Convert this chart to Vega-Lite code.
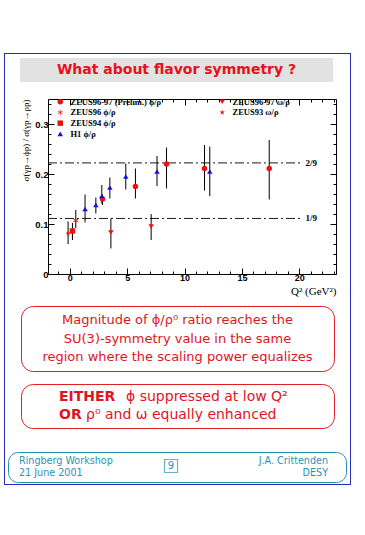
{
  "$schema": "https://vega.github.io/schema/vega-lite/v6.json",
  "background": "white",
  "padding": {"left": 4, "top": 53, "right": 0, "bottom": 0},
  "spacing": 0,
  "config": {"view": {"stroke": null}, "font": "DejaVu Sans"},
  "datasets": {
    "pts": [
      {"g": "phi", "s": "ZEUS96-97 (Prelim.) ϕ/ρ", "q2": 2.85, "v": 0.150, "lo": 0.138, "hi": 0.159},
      {"g": "phi", "s": "ZEUS96-97 (Prelim.) ϕ/ρ", "q2": 5.72, "v": 0.175, "lo": 0.151, "hi": 0.211},
      {"g": "phi", "s": "ZEUS96-97 (Prelim.) ϕ/ρ", "q2": 8.43, "v": 0.220, "lo": 0.171, "hi": 0.253},
      {"g": "phi", "s": "ZEUS96-97 (Prelim.) ϕ/ρ", "q2": 11.74, "v": 0.211, "lo": 0.167, "hi": 0.258},
      {"g": "phi", "s": "ZEUS96-97 (Prelim.) ϕ/ρ", "q2": 17.38, "v": 0.211, "lo": 0.149, "hi": 0.268},
      {"g": "phi", "s": "ZEUS96 ϕ/ρ", "q2": 0.52, "v": 0.107, "lo": 0.092, "hi": 0.128},
      {"g": "phi", "s": "ZEUS94 ϕ/ρ", "q2": 0.23, "v": 0.086, "lo": 0.068, "hi": 0.102},
      {"g": "phi", "s": "H1 ϕ/ρ", "q2": 1.33, "v": 0.130, "lo": 0.103, "hi": 0.159},
      {"g": "phi", "s": "H1 ϕ/ρ", "q2": 2.27, "v": 0.138, "lo": 0.121, "hi": 0.153},
      {"g": "phi", "s": "H1 ϕ/ρ", "q2": 2.79, "v": 0.156, "lo": 0.141, "hi": 0.178},
      {"g": "phi", "s": "H1 ϕ/ρ", "q2": 3.49, "v": 0.173, "lo": 0.151, "hi": 0.193},
      {"g": "phi", "s": "H1 ϕ/ρ", "q2": 4.88, "v": 0.195, "lo": 0.169, "hi": 0.221},
      {"g": "phi", "s": "H1 ϕ/ρ", "q2": 7.6, "v": 0.205, "lo": 0.176, "hi": 0.236},
      {"g": "phi", "s": "H1 ϕ/ρ", "q2": 12.2, "v": 0.205, "lo": 0.156, "hi": 0.255},
      {"g": "omega", "s": "ZEUS96-97 ω/ρ", "q2": 3.58, "v": 0.083, "lo": 0.051, "hi": 0.111},
      {"g": "omega", "s": "ZEUS96-97 ω/ρ", "q2": 7.09, "v": 0.095, "lo": 0.068, "hi": 0.120},
      {"g": "omega", "s": "ZEUS93 ω/ρ", "q2": -0.15, "v": 0.081, "lo": 0.060, "hi": 0.105}
    ],
    "ref": [
      {"y": 0.2222, "x1": -1.9, "x2": 20.2, "label": "2/9"},
      {"y": 0.1111, "x1": -1.9, "x2": 20.2, "label": "1/9"}
    ],
    "blank": [{}]
  },
  "hconcat": [
    {"width": 1, "height": 432, "view": {"fill": "#2b2bb5", "stroke": null}, "data": {"name": "blank"}, "mark": {"type": "point", "size": 0, "opacity": 0}},
    {
      "vconcat": [
        {"width": 345, "height": 1, "view": {"fill": "#2b2bb5", "stroke": null}, "data": {"name": "blank"}, "mark": {"type": "point", "size": 0, "opacity": 0}},
        {"width": 1, "height": 4, "data": {"name": "blank"}, "mark": {"type": "point", "size": 0, "opacity": 0}},
        {
          "hconcat": [
            {"width": 15, "height": 24, "data": {"name": "blank"}, "mark": {"type": "point", "size": 0, "opacity": 0}},
            {
              "width": 313, "height": 24,
              "view": {"fill": "#e2e2e2", "stroke": null},
              "data": {"values": [{"t": "What about flavor symmetry ?"}]},
              "mark": {"type": "text", "font": "DejaVu Sans", "fontWeight": "bold", "fontSize": 14, "color": "#e8101a"},
              "encoding": {"text": {"field": "t"}}
            }
          ],
          "spacing": 0
        },
        {"width": 1, "height": 15, "data": {"name": "blank"}, "mark": {"type": "point", "size": 0, "opacity": 0}},
        {
          "hconcat": [
            {"width": 43, "height": 175, "data": {"name": "blank"}, "mark": {"type": "point", "size": 0, "opacity": 0}},
            {
              "width": 288, "height": 175,
              "view": {"stroke": "black", "strokeWidth": 1},
              "layer": [
                {
                  "data": {"name": "ref"},
                  "mark": {"type": "rule", "strokeDash": [9, 3, 2, 3], "strokeWidth": 0.9, "color": "black"},
                  "encoding": {
                    "x": {"field": "x1", "type": "quantitative", "scale": {"domain": [-1.9, 23.2], "nice": false, "zero": false},
                      "axis": {"orient": "bottom", "values": [-1,0,1,2,3,4,5,6,7,8,9,10,11,12,13,14,15,16,17,18,19,20,21,22,23],
                        "labelExpr": "datum.value % 5 === 0 ? datum.label : ''",
                        "tickSize": {"condition": {"test": "datum.value % 5 === 0", "value": -6}, "value": -3},
                        "tickColor": "black", "domain": false, "grid": false,
                        "labelFont": "Liberation Sans", "labelFontWeight": "bold", "labelFontSize": 9, "labelColor": "black",
                        "labelPadding": 5, "labelFlush": false, "labelOverlap": false,
                        "title": "Q² (GeV²)", "titleFont": "Liberation Serif", "titleFontSize": 11, "titleFontWeight": "normal",
                        "titleAnchor": "end", "titlePadding": 0, "titleColor": "black"}},
                    "x2": {"field": "x2"},
                    "y": {"field": "y", "type": "quantitative", "scale": {"domain": [0, 0.35], "nice": false},
                      "axis": {"orient": "left", "values": [0,0.02,0.04,0.06,0.08,0.1,0.12,0.14,0.16,0.18,0.2,0.22,0.24,0.26,0.28,0.3,0.32,0.34],
                        "format": ".1~f",
                        "labelExpr": "abs(datum.value*10-round(datum.value*10)) < 0.001 ? datum.label : ''",
                        "tickSize": {"condition": {"test": "abs(datum.value*10-round(datum.value*10)) < 0.001", "value": -6}, "value": -3},
                        "tickColor": "black", "domain": false, "grid": false,
                        "labelFont": "Liberation Sans", "labelFontWeight": "bold", "labelFontSize": 9.5, "labelColor": "black",
                        "labelPadding": 6, "labelFlush": false, "labelOverlap": false,
                        "title": "σ(γp→ϕp) / σ(γp→ρp)", "titleFont": "Liberation Serif", "titleFontSize": 9, "titleFontWeight": "normal",
                        "titleAnchor": "end", "titlePadding": 4, "titleColor": "black"}}
                  }
                },
                {
                  "data": {"name": "ref"},
                  "mark": {"type": "text", "align": "left", "dx": 4, "font": "Liberation Serif", "fontWeight": "bold", "fontSize": 9, "color": "black"},
                  "encoding": {
                    "x": {"field": "x2", "type": "quantitative", "scale": {"domain": [-1.9, 23.2], "nice": false, "zero": false}, "axis": null},
                    "y": {"field": "y", "type": "quantitative", "scale": {"domain": [0, 0.35], "nice": false}, "axis": null},
                    "text": {"field": "label"}
                  }
                },
                {
                  "data": {"name": "pts"},
                  "mark": {"type": "rule", "color": "black", "strokeWidth": 1},
                  "encoding": {
                    "x": {"field": "q2", "type": "quantitative", "scale": {"domain": [-1.9, 23.2], "nice": false, "zero": false},
                      "axis": {"orient": "top", "values": [-1,0,1,2,3,4,5,6,7,8,9,10,11,12,13,14,15,16,17,18,19,20,21,22,23],
                        "labels": false, "domain": false, "grid": false, "title": null, "tickColor": "black",
                        "tickSize": {"condition": {"test": "datum.value % 5 === 0", "value": -6}, "value": -3}}},
                    "y": {"field": "lo", "type": "quantitative", "scale": {"domain": [0, 0.35], "nice": false},
                      "axis": {"orient": "right", "values": [0,0.02,0.04,0.06,0.08,0.1,0.12,0.14,0.16,0.18,0.2,0.22,0.24,0.26,0.28,0.3,0.32,0.34],
                        "labels": false, "domain": false, "grid": false, "title": null, "tickColor": "black",
                        "tickSize": {"condition": {"test": "abs(datum.value*10-round(datum.value*10)) < 0.001", "value": -6}, "value": -3}}},
                    "y2": {"field": "hi"}
                  }
                },
                {
                  "data": {"name": "pts"},
                  "transform": [{"filter": "datum.g === 'phi'"}],
                  "mark": {"type": "point", "filled": true, "size": 30, "opacity": 1},
                  "encoding": {
                    "x": {"field": "q2", "type": "quantitative", "scale": {"domain": [-1.9, 23.2], "nice": false, "zero": false}, "axis": null},
                    "y": {"field": "v", "type": "quantitative", "scale": {"domain": [0, 0.35], "nice": false}, "axis": null},
                    "color": {"field": "s", "type": "nominal",
                      "scale": {"domain": ["ZEUS96-97 (Prelim.) ϕ/ρ", "ZEUS96 ϕ/ρ", "ZEUS94 ϕ/ρ", "H1 ϕ/ρ"], "range": ["#f01010", "#f01010", "#f01010", "#1010e0"]},
                      "legend": {"orient": "none", "legendX": 8, "legendY": -1.5, "title": null, "padding": 0, "rowPadding": 1.7,
                        "labelFont": "Liberation Serif", "labelFontWeight": "bold", "labelFontSize": 8.5, "labelColor": "black", "labelOffset": 6,
                        "symbolSize": 30, "symbolStrokeWidth": 0}},
                    "shape": {"field": "s", "type": "nominal",
                      "scale": {"domain": ["ZEUS96-97 (Prelim.) ϕ/ρ", "ZEUS96 ϕ/ρ", "ZEUS94 ϕ/ρ", "H1 ϕ/ρ"],
                        "range": ["circle", "M-0.12,-1L0.12,-1L0.12,1L-0.12,1ZM-0.926,-0.396L-0.806,-0.604L0.926,0.396L0.806,0.604ZM0.806,-0.604L0.926,-0.396L-0.806,0.604L-0.926,0.396Z", "square", "triangle-up"]},
                      "legend": {"orient": "none", "legendX": 8, "legendY": -1.5, "title": null, "padding": 0, "rowPadding": 1.7,
                        "labelFont": "Liberation Serif", "labelFontWeight": "bold", "labelFontSize": 8.5, "labelColor": "black", "labelOffset": 6,
                        "symbolSize": 30, "symbolStrokeWidth": 0}}
                  }
                },
                {
                  "data": {"name": "pts"},
                  "transform": [{"filter": "datum.g === 'omega'"}],
                  "mark": {"type": "point", "filled": true, "size": 30, "opacity": 1},
                  "encoding": {
                    "x": {"field": "q2", "type": "quantitative", "scale": {"domain": [-1.9, 23.2], "nice": false, "zero": false}, "axis": null},
                    "y": {"field": "v", "type": "quantitative", "scale": {"domain": [0, 0.35], "nice": false}, "axis": null},
                    "color": {"field": "s", "type": "nominal",
                      "scale": {"domain": ["ZEUS96-97 ω/ρ", "ZEUS93 ω/ρ"], "range": ["#f01010", "#f01010"]},
                      "legend": {"orient": "none", "legendX": 170, "legendY": -1.5, "title": null, "padding": 0, "rowPadding": 1.7,
                        "labelFont": "Liberation Serif", "labelFontWeight": "bold", "labelFontSize": 8.5, "labelColor": "black", "labelOffset": 6,
                        "symbolSize": 30, "symbolStrokeWidth": 0}},
                    "shape": {"field": "s", "type": "nominal",
                      "scale": {"domain": ["ZEUS96-97 ω/ρ", "ZEUS93 ω/ρ"],
                        "range": ["triangle-down", "M0,-1L0.235,-0.324L0.951,-0.309L0.38,0.124L0.588,0.809L0,0.4L-0.588,0.809L-0.38,0.124L-0.951,-0.309L-0.235,-0.324Z"]},
                      "legend": {"orient": "none", "legendX": 170, "legendY": -1.5, "title": null, "padding": 0, "rowPadding": 1.7,
                        "labelFont": "Liberation Serif", "labelFontWeight": "bold", "labelFontSize": 8.5, "labelColor": "black", "labelOffset": 6,
                        "symbolSize": 30, "symbolStrokeWidth": 0}}
                  }
                }
              ],
              "resolve": {"scale": {"color": "independent", "shape": "independent"}, "axis": {"x": "independent", "y": "independent"}}
            }
          ],
          "spacing": 0,
          "bounds": "flush"
        },
        {"width": 1, "height": 8, "data": {"name": "blank"}, "mark": {"type": "point", "size": 0, "opacity": 0}},
        {
          "hconcat": [
            {"width": 15, "height": 65, "data": {"name": "blank"}, "mark": {"type": "point", "size": 0, "opacity": 0}},
            {
              "width": 313, "height": 65,
              "view": {"stroke": "#e02020", "strokeWidth": 1, "cornerRadius": 12},
              "data": {"values": [
                {"line": 1, "t": "Magnitude of ϕ/ρ⁰ ratio reaches the"},
                {"line": 2, "t": "SU(3)-symmetry value in the same"},
                {"line": 3, "t": "region where the scaling power equalizes"}
              ]},
              "mark": {"type": "text", "font": "DejaVu Sans", "fontSize": 13, "color": "#e0141e"},
              "encoding": {
                "y": {"field": "line", "type": "ordinal", "axis": null, "scale": {"type": "point", "padding": 0.75}},
                "text": {"field": "t"}
              }
            }
          ],
          "spacing": 0
        },
        {"width": 1, "height": 10.8, "data": {"name": "blank"}, "mark": {"type": "point", "size": 0, "opacity": 0}},
        {
          "hconcat": [
            {"width": 15, "height": 44, "data": {"name": "blank"}, "mark": {"type": "point", "size": 0, "opacity": 0}},
            {
              "width": 313, "height": 44,
              "view": {"stroke": "#e02020", "strokeWidth": 1, "cornerRadius": 12},
              "layer": [
                {
                  "data": {"values": [{"line": 1, "t": "EITHER"}, {"line": 2, "t": "OR"}]},
                  "mark": {"type": "text", "font": "DejaVu Sans", "fontWeight": "bold", "fontSize": 14, "color": "#e0141e", "align": "left", "dx": -118.5},
                  "encoding": {
                    "y": {"field": "line", "type": "ordinal", "axis": null, "scale": {"type": "point", "padding": 0.68, "domain": [1, 2]}},
                    "text": {"field": "t"}
                  }
                },
                {
                  "data": {"values": [{"line": 1, "t": "ϕ suppressed at low Q²"}]},
                  "mark": {"type": "text", "font": "DejaVu Sans", "fontSize": 14, "color": "#e0141e", "align": "left", "dx": -51.5},
                  "encoding": {
                    "y": {"field": "line", "type": "ordinal", "axis": null, "scale": {"type": "point", "padding": 0.68, "domain": [1, 2]}},
                    "text": {"field": "t"}
                  }
                },
                {
                  "data": {"values": [{"line": 2, "t": "ρ⁰ and ω equally enhanced"}]},
                  "mark": {"type": "text", "font": "DejaVu Sans", "fontSize": 14, "color": "#e0141e", "align": "left", "dx": -91.5},
                  "encoding": {
                    "y": {"field": "line", "type": "ordinal", "axis": null, "scale": {"type": "point", "padding": 0.68, "domain": [1, 2]}},
                    "text": {"field": "t"}
                  }
                }
              ]
            }
          ],
          "spacing": 0
        },
        {"width": 1, "height": 22, "data": {"name": "blank"}, "mark": {"type": "point", "size": 0, "opacity": 0}},
        {
          "hconcat": [
            {"width": 2, "height": 30, "data": {"name": "blank"}, "mark": {"type": "point", "size": 0, "opacity": 0}},
            {
              "width": 338, "height": 30,
              "view": {"stroke": "#1f95b5", "strokeWidth": 1, "cornerRadius": 10},
              "layer": [
                {
                  "data": {"values": [{"line": 1, "t": "Ringberg Workshop"}, {"line": 2, "t": "21 June 2001"}]},
                  "mark": {"type": "text", "font": "DejaVu Sans", "fontSize": 9.6, "color": "#1f95b5", "align": "left", "dx": -158},
                  "encoding": {
                    "y": {"field": "line", "type": "ordinal", "axis": null, "scale": {"type": "point", "padding": 0.75, "domain": [1, 2]}},
                    "text": {"field": "t"}
                  }
                },
                {
                  "data": {"values": [{"line": 1, "t": "J.A. Crittenden"}, {"line": 2, "t": "DESY"}]},
                  "mark": {"type": "text", "font": "DejaVu Sans", "fontSize": 9.6, "color": "#1f95b5", "align": "right", "dx": 151},
                  "encoding": {
                    "y": {"field": "line", "type": "ordinal", "axis": null, "scale": {"type": "point", "padding": 0.75, "domain": [1, 2]}},
                    "text": {"field": "t"}
                  }
                },
                {
                  "data": {"values": [{"page": "9"}]},
                  "mark": {"type": "point", "shape": "square", "size": 170, "filled": false, "stroke": "#1f95b5", "strokeWidth": 1.2},
                  "encoding": {"xOffset": {"value": -6}, "yOffset": {"value": -1}}
                },
                {
                  "data": {"values": [{"page": "9"}]},
                  "mark": {"type": "text", "font": "DejaVu Sans", "fontSize": 10, "color": "#1f95b5", "dx": -6, "dy": -1},
                  "encoding": {"text": {"field": "page"}}
                }
              ]
            }
          ],
          "spacing": 0
        },
        {"width": 1, "height": 1, "data": {"name": "blank"}, "mark": {"type": "point", "size": 0, "opacity": 0}},
        {"width": 345, "height": 1, "view": {"fill": "#2b2bb5", "stroke": null}, "data": {"name": "blank"}, "mark": {"type": "point", "size": 0, "opacity": 0}}
      ],
      "spacing": 0
    },
    {"width": 1, "height": 432, "view": {"fill": "#2b2bb5", "stroke": null}, "data": {"name": "blank"}, "mark": {"type": "point", "size": 0, "opacity": 0}}
  ]
}
